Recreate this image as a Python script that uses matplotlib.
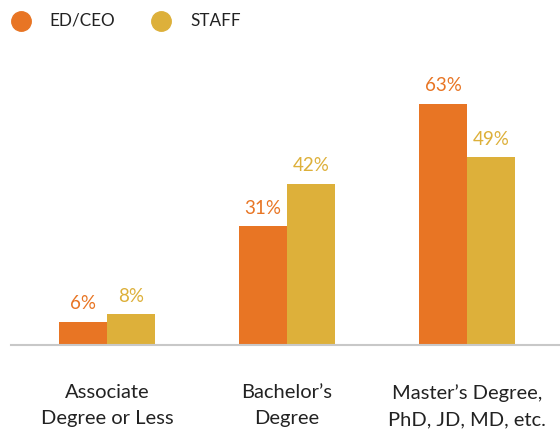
import matplotlib.pyplot as plt
from matplotlib.lines import Line2D
import numpy as np

plt.rcParams['font.family'] = ['Lato', 'DejaVu Sans']

categories = ['Associate\nDegree or Less', 'Bachelor\u2019s\nDegree', 'Master\u2019s Degree,\nPhD, JD, MD, etc.']
series_names = ['ED/CEO', 'STAFF']
ed_ceo = [6, 31, 63]
staff = [8, 42, 49]
colors = ['#E87524', '#DDB03A']

W, H = 560, 429
fig = plt.figure(figsize=(W / 100, H / 100), dpi=100)
ax = fig.add_axes([11 / W, (H - 345) / H, 549 / W, 305 / H])

x = np.arange(len(categories))
width = 48 / 180
for i, (vals, c) in enumerate(zip([ed_ceo, staff], colors)):
    pos = x + (i - 0.5) * width
    ax.bar(pos, vals, width=width, color=c, align='center', zorder=2)
    for p, v in zip(pos, vals):
        ax.annotate(f'{v}%', (p, v), xytext=(0, 7), textcoords='offset points',
                    ha='center', va='bottom', color=c, fontsize=13.5)

ax.set_xlim(-96 / 180, -96 / 180 + 549 / 180)
ax.set_ylim(0, 305 / 3.83)
for s in ['top', 'right', 'left']:
    ax.spines[s].set_visible(False)
ax.spines['bottom'].set_color('#c8c8c8')
ax.spines['bottom'].set_linewidth(1.5)
ax.set_yticks([])
ax.set_xticks(x)
ax.set_xticklabels(categories, fontsize=14.5, color='#222222', linespacing=1.68)
ax.tick_params(axis='x', length=0, pad=28)

# legend
leg_x = [21, 161]
text_x = [49, 190]
for lx, tx, name, c in zip(leg_x, text_x, series_names, colors):
    fig.add_artist(Line2D([lx / W], [1 - 21 / H], marker='o', markersize=14,
                          color=c, linestyle='none', transform=fig.transFigure))
    fig.text(tx / W, 1 - 21 / H, name, fontsize=12.3, color='#222222',
             va='center', ha='left')

fig.savefig('out.png', dpi=100)
